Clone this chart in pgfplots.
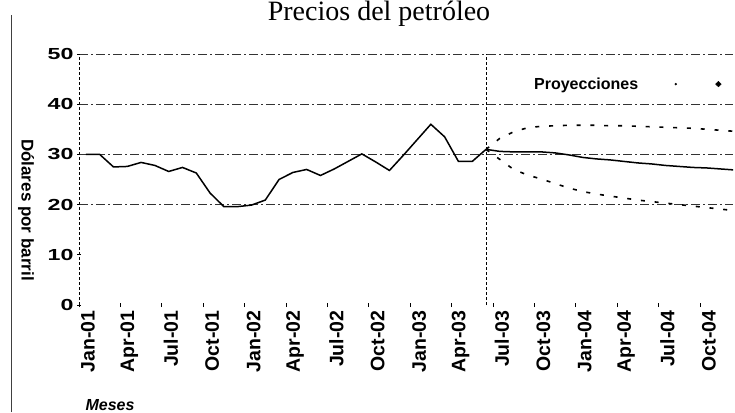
\documentclass[border=0pt]{standalone}
\usepackage{pgfplots}
\pgfplotsset{compat=1.18}
\usepackage{fontspec}
\setmainfont{Liberation Sans}
\newfontfamily\titlefont{Liberation Serif}
\newfontfamily\yfont[FakeStretch=1.45]{Liberation Sans Bold}
\newfontfamily\bfont{Liberation Sans Bold}
\begin{document}
\begin{tikzpicture}
\useasboundingbox (0,0) rectangle (735pt,412pt);
\draw[line width=0.8pt, black!75] (11pt,0) -- (11pt,397pt);
\node[anchor=base, font=\titlefont\fontsize{28}{28}\selectfont] at (379pt,391pt) {Precios del petróleo};
\node[rotate=-90, font=\bfont\fontsize{17}{17}\selectfont] at (26pt,202pt) {Dólares por barril};
\node[anchor=base west, font=\bfont\itshape\fontsize{16}{16}\selectfont] at (82pt,2pt) {Meses};
\begin{axis}[
  scale only axis, width=654pt, height=251pt,
  at={(79pt,107pt)}, anchor=south west,
  xmin=0, xmax=47.4, ymin=0, ymax=50,
  axis line style={draw=none},
  /pgf/number format/assume math mode=true,
  xtick={0,3,...,45},
  xticklabels={Jan-01,Apr-01,Jul-01,Oct-01,Jan-02,Apr-02,Jul-02,Oct-02,Jan-03,Apr-03,Jul-03,Oct-03,Jan-04,Apr-04,Jul-04,Oct-04},
  ytick={0,10,...,50},
  yticklabels={0,10,20,30,40,50},
  tick pos=left,
  tick align=center,
  major tick length=4pt,
  tick style={black, line width=0.6pt},
  x tick label style={font=\bfont\fontsize{19.5}{19.5}\selectfont, anchor=east, xshift=9pt, rotate=90},
  y tick label style={font=\yfont\fontsize{16}{16}\selectfont},
  legend plot pos=right,
  legend style={draw=none, fill=none, at={(0.688,0.88)}, anchor=west, font=\bfont\fontsize{16}{16}\selectfont},
  legend image code/.code={
    \path[draw=none] (0,-1pt) rectangle (0.1cm,1pt);
    \fill[black] (1.25cm,0) circle (1pt);
    \fill[black] (2.75cm,2.8pt) -- (2.85cm,0) -- (2.75cm,-2.8pt) -- (2.65cm,0) -- cycle;
  },
]
% gridlines
\draw[black!80, line width=0.7pt, dash pattern=on 9pt off 3pt on 2pt off 3pt] (axis cs:0,20) -- (axis cs:47.4,20);
\draw[black!80, line width=0.7pt, dash pattern=on 9pt off 3pt on 2pt off 3pt] (axis cs:0,30) -- (axis cs:47.4,30);
\draw[black!80, line width=0.7pt, dash pattern=on 9pt off 3pt on 2pt off 3pt] (axis cs:0,40) -- (axis cs:47.4,40);
\draw[black!80, line width=0.7pt, dash pattern=on 9pt off 3pt on 2pt off 3pt] (axis cs:0,50) -- (axis cs:47.4,50);
\draw[black, line width=0.7pt, densely dashed] (axis cs:0,0) -- (axis cs:0,50);
\draw[black, line width=0.7pt, densely dashed] (axis cs:29.5,0) -- (axis cs:29.5,50);
% historical
\addplot[black, line width=1.5pt, no marks, forget plot] coordinates {
(0.5,30.0) (1.5,30.0) (2.5,27.5) (3.5,27.6) (4.5,28.4) (5.5,27.8) (6.5,26.6) (7.5,27.4) (8.5,26.3) (9.5,22.3)
(10.5,19.6) (11.5,19.6) (12.5,19.9) (13.5,20.9) (14.5,25.0) (15.5,26.4) (16.5,27.0) (17.5,25.8) (18.5,27.1) (19.5,28.6)
(20.5,30.1) (21.5,28.5) (22.5,26.8) (23.5,29.8) (24.5,32.9) (25.5,36.0) (26.5,33.5) (27.5,28.6) (28.5,28.6) (29.5,31.0)
};
% central projection
\addplot[black, line width=1.5pt, no marks, forget plot] coordinates {
(29.5,31.0) (30.5,30.6) (31.5,30.5) (32.5,30.5) (33.5,30.5) (34.5,30.3) (35.5,29.9) (36.5,29.4) (37.5,29.1) (38.5,28.9)
(39.5,28.6) (40.5,28.3) (41.5,28.1) (42.5,27.8) (43.5,27.6) (44.5,27.4) (45.5,27.3) (46.5,27.1) (47.5,26.9)
};
% upper band
\addplot[black, line width=1.6pt, no marks, dash pattern=on 4pt off 9.8pt, forget plot] coordinates {
(29.5,31.0) (30.5,33.2) (31.5,34.5) (32.5,35.3) (33.5,35.6) (34.5,35.7) (35.5,35.8) (36.5,35.8) (37.5,35.8) (38.5,35.7)
(39.5,35.7) (40.5,35.6) (41.5,35.5) (42.5,35.4) (43.5,35.3) (44.5,35.2) (45.5,35.0) (46.5,34.8) (47.5,34.6)
};
% lower band
\addplot[black, line width=1.6pt, no marks, dash pattern=on 4pt off 9.8pt, forget plot] coordinates {
(29.5,31.0) (30.5,29.0) (31.5,27.0) (32.5,25.9) (33.5,25.1) (34.5,24.2) (35.5,23.3) (36.5,22.6) (37.5,22.1) (38.5,21.7)
(39.5,21.3) (40.5,20.9) (41.5,20.6) (42.5,20.3) (43.5,20.0) (44.5,19.7) (45.5,19.4) (46.5,19.1) (47.5,18.8)
};
\addlegendimage{black}
\addlegendentry{Proyecciones}
\end{axis}
\end{tikzpicture}
\end{document}
